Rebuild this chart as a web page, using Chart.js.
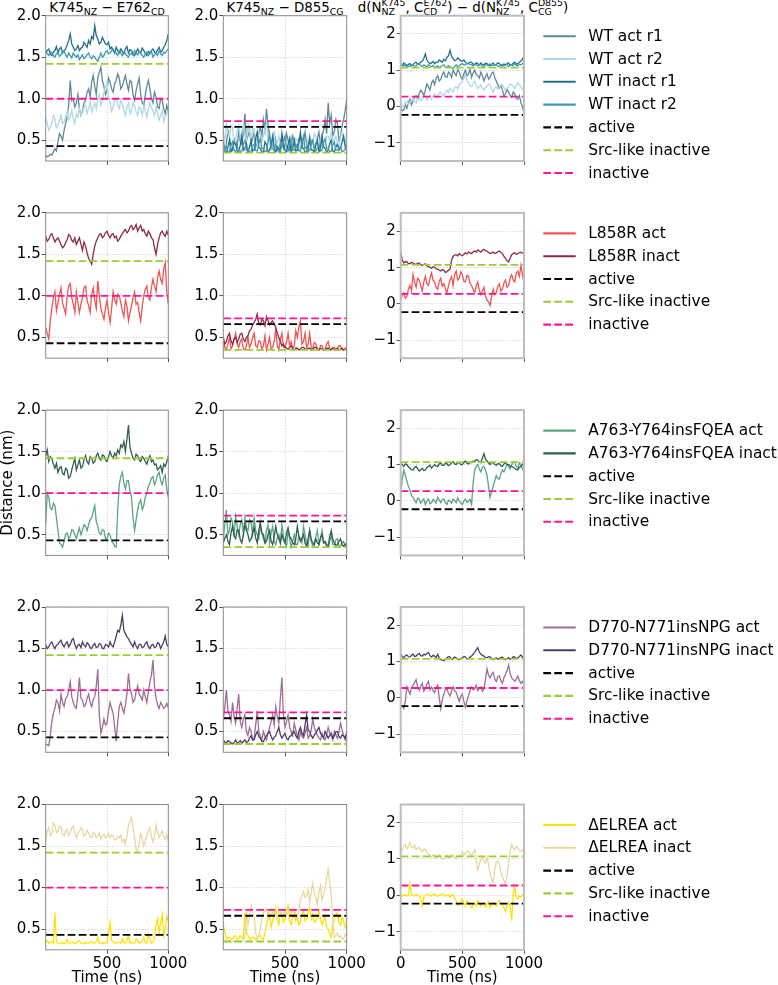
<!DOCTYPE html>
<html><head><meta charset="utf-8">
<script src="https://cdn.jsdelivr.net/npm/chart.js@4.4.1/dist/chart.umd.min.js"></script>
<style>
html,body{margin:0;padding:0;background:#fff;width:778px;height:985px;overflow:hidden;position:relative;font-family:'DejaVu Sans',sans-serif;color:#000;}
canvas{position:absolute;}
.ttl{position:absolute;top:-7px;font-size:13.4px;line-height:30px;white-space:nowrap;transform:translateX(-50%);}
.sb{font-size:9.4px;position:relative;top:3px;}
.stk{display:inline-block;position:relative;font-size:9.4px;line-height:30px;}
.stk .sp{position:relative;top:-6px;}
.stk .dn{position:absolute;left:0;top:3px;}
</style></head><body>
<div class="ttl" style="left:107px">K745<span class="sb">NZ</span> − E762<span class="sb">CD</span></div>
<div class="ttl" style="left:285px">K745<span class="sb">NZ</span> − D855<span class="sb">CG</span></div>
<div class="ttl" style="left:463px">d(N<span class="stk"><span class="sp">K745</span><span class="dn">NZ</span></span>, C<span class="stk"><span class="sp">E762</span><span class="dn">CD</span></span>) − d(N<span class="stk"><span class="sp">K745</span><span class="dn">NZ</span></span>, C<span class="stk"><span class="sp">D855</span><span class="dn">CG</span></span>)</div>
<script>
// ---------------- DATA ----------------
const timeNs = [0,12.5,25,37.5,50,62.5,75,87.5,100,112.5,125,137.5,150,162.5,175,187.5,200,212.5,225,237.5,250,262.5,275,287.5,300,312.5,325,337.5,350,362.5,375,387.5,400,412.5,425,437.5,450,462.5,475,487.5,500,512.5,525,537.5,550,562.5,575,587.5,600,612.5,625,637.5,650,662.5,675,687.5,700,712.5,725,737.5,750,762.5,775,787.5,800,812.5,825,837.5,850,862.5,875,887.5,900,912.5,925,937.5,950,962.5,975,987.5,1000];

const xTicksDist = [500,1000];
const xTicksDiff = [0,500,1000];
const yTicksDist = [0.5,1.0,1.5,2.0];
const yTickLabelsDist = ['0.5','1.0','1.5','2.0'];
const yTicksDiff = [-1,0,1,2];
const yTickLabelsDiff = ['−1','0','1','2'];

// reference states per column: [K745-E762, K745-D855, difference]
const refActive   = [0.43, 0.66, -0.23];
const refSrcLike  = [1.42, 0.35, 1.07];
const refInactive = [1.00, 0.73, 0.27];
const refLabels = ['active','Src-like inactive','inactive'];

// WT
const wtActR1_E762 = [.32,.30,.31,.33,.32,.36,.40,.37,.48,.58,.55,.50,.62,.70,.78,.92,1.22,.98,1.00,.90,.95,1.05,.88,.80,.85,.95,.98,1.08,1.12,1.02,1.20,1.28,1.15,1.05,1.25,1.32,1.38,1.22,1.15,1.05,1.10,1.25,1.20,1.12,1.08,1.18,1.22,1.30,1.25,1.12,1.15,1.22,1.28,1.18,1.10,1.22,1.20,1.05,.98,1.10,1.18,1.25,1.05,.95,.92,1.05,1.15,1.22,1.12,1.00,.95,1.08,1.02,.90,.88,1.00,.98,.88,.82,.92,.85];
const wtActR2_E762 = [.78,.70,.62,.66,.70,.80,.76,.65,.68,.74,.80,.70,.72,.78,.84,.74,.78,.86,.76,.70,.82,.78,.88,.80,.84,.90,.92,.82,.88,.96,.84,.90,.95,.88,1.00,1.05,.92,.98,1.08,1.15,1.20,1.02,.95,.85,.90,.98,1.00,.92,.88,.98,.94,.86,.80,.90,.95,.82,.86,.95,.92,.84,.80,.90,.88,.80,.92,.85,.78,.88,.95,.90,.85,.80,.90,.82,.74,.80,.86,.72,.78,.82,.85];
const wtInactR1_E762 = [1.55,1.58,1.60,1.54,1.52,1.56,1.58,1.63,1.55,1.60,1.62,1.55,1.58,1.60,1.65,1.70,1.78,1.66,1.62,1.58,1.60,1.64,1.58,1.61,1.62,1.68,1.65,1.62,1.70,1.66,1.75,1.72,1.88,1.76,1.72,1.66,1.68,1.74,1.70,1.66,1.65,1.68,1.60,1.62,1.58,1.55,1.62,1.58,1.55,1.60,1.57,1.54,1.60,1.63,1.55,1.59,1.58,1.54,1.52,1.56,1.60,1.57,1.55,1.61,1.58,1.55,1.52,1.57,1.55,1.58,1.60,1.56,1.55,1.59,1.62,1.56,1.58,1.62,1.65,1.70,1.78];
const wtInactR2_E762 = [1.58,1.54,1.52,1.57,1.55,1.52,1.50,1.54,1.56,1.51,1.53,1.56,1.58,1.53,1.50,1.55,1.52,1.49,1.55,1.52,1.50,1.53,1.47,1.50,1.53,1.48,1.50,1.53,1.55,1.50,1.48,1.52,1.50,1.47,1.45,1.50,1.55,1.50,1.52,1.56,1.58,1.54,1.55,1.58,1.60,1.56,1.55,1.52,1.58,1.55,1.52,1.56,1.55,1.52,1.50,1.54,1.55,1.52,1.58,1.55,1.53,1.57,1.55,1.52,1.50,1.54,1.56,1.52,1.54,1.57,1.50,1.53,1.55,1.52,1.58,1.54,1.52,1.56,1.55,1.58,1.60];
const wtActR1_D855 = [.50,.40,.45,.62,.55,.38,.40,.52,.50,.42,.60,.48,.45,.60,.82,.50,.55,.62,.45,.52,.60,.42,.50,.58,.65,.55,.75,.62,.88,.68,.55,.40,.45,.58,.50,.38,.40,.48,.55,.40,.45,.58,.50,.38,.40,.55,.50,.40,.45,.52,.55,.42,.50,.60,.45,.38,.55,.48,.50,.40,.45,.52,.60,.45,.55,.62,.75,.58,.95,.70,.80,.55,.60,.75,.70,.50,.55,.68,.75,.85,1.00];
const wtActR2_D855 = [.60,.48,.70,.58,.55,.68,.65,.45,.50,.62,.68,.52,.60,.70,.55,.48,.70,.60,.50,.65,.62,.50,.45,.58,.60,.48,.55,.65,.70,.52,.45,.40,.50,.58,.40,.48,.55,.45,.42,.52,.50,.42,.40,.50,.55,.40,.45,.52,.50,.42,.40,.50,.48,.40,.42,.52,.50,.44,.45,.58,.55,.45,.42,.50,.50,.42,.45,.55,.55,.50,.60,.48,.50,.55,.45,.42,.55,.60,.50,.45,.60];
const wtInactR1_D855 = [.40,.37,.35,.42,.50,.36,.38,.48,.45,.37,.36,.44,.55,.38,.40,.46,.36,.42,.50,.37,.38,.52,.60,.42,.40,.36,.36,.48,.45,.36,.38,.44,.55,.40,.36,.42,.40,.36,.58,.44,.38,.36,.45,.52,.36,.40,.50,.37,.38,.46,.60,.42,.40,.36,.36,.44,.50,.38,.38,.36,.45,.50,.36,.40,.55,.42,.40,.36,.38,.46,.50,.37,.36,.42,.45,.38,.40,.48,.55,.42,.38];
const wtInactR2_D855 = [.36,.38,.42,.36,.37,.44,.48,.38,.36,.41,.40,.37,.37,.45,.50,.38,.40,.36,.36,.43,.45,.38,.37,.46,.52,.40,.40,.36,.37,.48,.58,.42,.40,.37,.45,.39,.36,.38,.42,.48,.55,.40,.37,.44,.50,.38,.38,.42,.45,.37,.37,.48,.55,.40,.42,.36,.38,.45,.50,.39,.37,.41,.45,.37,.38,.48,.52,.40,.40,.36,.37,.44,.48,.38,.38,.41,.42,.36,.37,.40,.45];
const wtActR1_Diff = [.00,-.12,-.10,.05,-.05,.10,.20,.05,.15,.25,.30,.20,.35,.45,.40,.30,.45,.62,.55,.45,.65,.72,.60,.78,.85,.70,.75,.88,.95,.82,.80,.95,.90,.80,1.00,.92,.85,1.02,.95,.82,.75,.90,1.00,.85,.90,1.02,.80,.92,1.00,.88,.85,.78,.95,.85,.70,.82,.90,.75,.80,.92,.95,.80,.70,.60,.50,.58,.45,.30,.35,.48,.40,.30,.25,.40,.35,.22,.20,.30,.10,.00,-.20];
const wtActR2_Diff = [.10,.02,.00,.12,.15,.05,.10,.18,.20,.12,.10,.22,.25,.15,.20,.28,.30,.18,.25,.32,.20,.28,.35,.25,.30,.38,.40,.32,.30,.40,.45,.38,.50,.45,.40,.52,.55,.48,.60,.65,.70,.78,.90,.72,.65,.58,.55,.62,.70,.58,.50,.55,.60,.50,.45,.52,.55,.62,.60,.48,.40,.50,.55,.48,.50,.58,.60,.52,.45,.50,.55,.62,.60,.55,.50,.58,.65,.60,.55,.48,.40];
const wtInactR1_Diff = [1.15,1.12,1.20,1.14,1.10,1.16,1.18,1.12,1.15,1.20,1.22,1.16,1.18,1.22,1.25,1.32,1.45,1.28,1.22,1.18,1.20,1.24,1.18,1.22,1.22,1.28,1.25,1.22,1.30,1.26,1.35,1.40,1.55,1.38,1.32,1.26,1.28,1.34,1.30,1.25,1.25,1.28,1.22,1.18,1.18,1.22,1.22,1.16,1.15,1.20,1.18,1.14,1.20,1.16,1.15,1.19,1.18,1.14,1.12,1.16,1.20,1.14,1.15,1.20,1.18,1.13,1.12,1.17,1.15,1.18,1.20,1.14,1.15,1.19,1.22,1.16,1.18,1.22,1.25,1.30,1.40];
const wtInactR2_Diff = [1.20,1.14,1.12,1.17,1.15,1.11,1.10,1.14,1.16,1.11,1.12,1.16,1.18,1.12,1.10,1.14,1.12,1.09,1.15,1.11,1.10,1.13,1.06,1.10,1.12,1.07,1.10,1.13,1.15,1.10,1.08,1.12,1.10,1.06,1.05,1.10,1.15,1.10,1.12,1.16,1.18,1.14,1.15,1.18,1.20,1.16,1.15,1.12,1.18,1.15,1.12,1.16,1.15,1.11,1.10,1.14,1.15,1.12,1.18,1.14,1.12,1.16,1.15,1.11,1.10,1.14,1.16,1.12,1.14,1.17,1.10,1.13,1.15,1.12,1.18,1.14,1.12,1.16,1.15,1.18,1.20];

// L858R
const l858rAct_E762 = [.62,.55,.48,.70,.85,.98,1.05,.82,.92,1.02,1.10,.92,.85,.78,1.00,1.12,1.15,.98,.90,.80,1.05,.92,.80,.90,.98,1.10,1.12,.95,.88,.80,1.02,1.10,.95,.85,1.18,1.00,.85,.78,.72,.85,.95,.80,.68,.85,1.05,.95,.90,1.02,1.00,.92,.82,.75,.95,.88,.70,.80,.88,.98,1.05,.90,.92,.80,.70,.88,1.00,1.08,1.12,.98,.95,1.10,1.20,1.12,1.05,1.22,1.30,1.20,1.15,1.32,1.40,1.05,.90];
const l858rInact_E762 = [1.72,1.66,1.68,1.73,1.75,1.70,1.65,1.68,1.70,1.66,1.62,1.58,1.60,1.64,1.68,1.74,1.72,1.67,1.65,1.70,1.62,1.66,1.70,1.62,1.55,1.65,1.60,1.52,1.45,1.42,1.38,1.50,1.60,1.66,1.70,1.74,1.75,1.70,1.72,1.76,1.78,1.73,1.70,1.74,1.75,1.70,1.72,1.66,1.68,1.72,1.75,1.78,1.80,1.76,1.78,1.83,1.85,1.80,1.82,1.86,1.78,1.82,1.85,1.78,1.80,1.75,1.72,1.78,1.75,1.70,1.68,1.58,1.50,1.62,1.70,1.76,1.78,1.74,1.72,1.78,1.73];
const l858rAct_D855 = [.45,.38,.35,.42,.50,.36,.40,.48,.55,.42,.38,.45,.48,.36,.35,.40,.50,.38,.42,.50,.55,.40,.38,.46,.45,.36,.40,.52,.35,.42,.50,.36,.38,.45,.60,.40,.35,.48,.55,.38,.38,.44,.55,.40,.45,.36,.40,.58,.50,.62,.70,.42,.45,.55,.38,.42,.55,.38,.36,.44,.42,.35,.35,.40,.40,.35,.36,.42,.45,.36,.35,.38,.38,.35,.36,.40,.40,.35,.35,.37,.38];
const l858rInact_D855 = [.50,.42,.45,.52,.55,.46,.42,.48,.50,.44,.48,.54,.55,.48,.45,.50,.52,.58,.60,.65,.68,.72,.78,.66,.65,.72,.70,.64,.75,.70,.65,.68,.70,.66,.62,.55,.50,.45,.40,.42,.38,.37,.36,.38,.40,.36,.35,.37,.37,.35,.36,.38,.38,.36,.35,.37,.37,.35,.36,.38,.38,.36,.35,.37,.36,.35,.35,.37,.37,.35,.36,.37,.35,.36,.37,.35,.36,.37,.35,.36,.36];
const l858rAct_Diff = [.10,.25,.30,.15,.20,.40,.50,.35,.80,.60,.45,.70,.65,.50,.35,.60,.75,.55,.50,.70,.85,.65,.60,.45,.40,.62,.70,.48,.55,.40,.30,.50,.65,.75,.50,.80,.90,.65,.70,.88,.80,.62,.60,.78,.75,.55,.50,.40,.30,.48,.60,.38,.25,.35,.45,.22,.10,.05,-.05,.20,.40,.25,.30,.48,.55,.35,.40,.58,.65,.45,.50,.70,.80,.65,.60,.85,.90,.75,1.05,.80,.55];
const l858rInact_Diff = [1.42,1.20,1.12,1.16,1.15,1.11,1.10,1.14,1.12,1.09,1.08,1.12,1.12,1.07,1.05,1.08,1.10,1.04,1.02,1.00,.98,1.02,1.00,.96,.95,.92,.90,.94,.92,.86,.88,.92,.95,1.20,1.30,1.34,1.35,1.32,1.38,1.34,1.32,1.36,1.40,1.37,1.42,1.40,1.38,1.43,1.45,1.42,1.48,1.45,1.42,1.47,1.50,1.46,1.45,1.41,1.38,1.40,1.42,1.38,1.40,1.43,1.45,1.41,1.38,1.30,1.25,1.18,1.15,1.25,1.35,1.38,1.40,1.36,1.38,1.41,1.42,1.39,1.38];

// A763-Y764insFQEA
const fqeaAct_E762 = [.63,1.00,.95,.82,.80,.88,.85,.70,.55,.40,.38,.35,.42,.50,.52,.45,.48,.56,.55,.50,.45,.52,.58,.50,.55,.62,.60,.55,.62,.68,.70,.78,.85,.66,.60,.52,.50,.56,.55,.45,.45,.52,.50,.42,.40,.36,.35,.80,1.10,1.20,1.25,1.12,1.05,1.15,1.15,1.02,.95,.70,.55,.68,.80,.88,.92,.80,.85,.95,1.00,1.08,1.12,1.18,1.20,1.10,1.15,1.22,1.25,1.15,1.10,1.18,1.22,1.05,.95];
const fqeaInact_E762 = [1.45,1.52,1.38,1.44,1.42,1.35,1.30,1.36,1.25,1.30,1.32,1.24,1.22,1.30,1.28,1.18,1.20,1.28,1.35,1.42,1.28,1.34,1.40,1.30,1.32,1.40,1.45,1.38,1.35,1.44,1.42,1.36,1.38,1.45,1.48,1.42,1.40,1.46,1.45,1.40,1.38,1.44,1.50,1.45,1.42,1.48,1.45,1.52,1.48,1.58,1.55,1.62,1.50,1.65,1.82,1.55,1.48,1.42,1.40,1.47,1.45,1.40,1.38,1.44,1.42,1.38,1.35,1.41,1.45,1.38,1.40,1.34,1.35,1.28,1.30,1.33,1.25,1.35,1.32,1.38,1.45];
const fqeaAct_D855 = [.45,.62,.80,.50,.55,.70,.65,.48,.72,.60,.50,.62,.68,.52,.70,.58,.55,.68,.65,.50,.70,.55,.50,.45,.60,.52,.45,.40,.55,.62,.40,.52,.60,.42,.38,.46,.50,.40,.62,.48,.40,.36,.55,.45,.35,.42,.50,.38,.38,.48,.45,.40,.60,.50,.40,.36,.55,.42,.36,.40,.48,.55,.38,.45,.55,.40,.40,.36,.35,.42,.50,.38,.38,.44,.45,.36,.36,.40,.42,.36,.38];
const fqeaInact_D855 = [.40,.46,.50,.42,.38,.52,.60,.48,.45,.56,.55,.44,.40,.50,.62,.55,.50,.42,.45,.52,.58,.46,.40,.55,.65,.52,.50,.40,.42,.50,.55,.42,.38,.48,.60,.50,.45,.40,.50,.44,.40,.52,.58,.48,.45,.40,.38,.45,.60,.48,.42,.46,.50,.40,.36,.45,.55,.44,.40,.38,.45,.40,.38,.46,.50,.40,.42,.38,.36,.48,.55,.44,.40,.37,.38,.42,.45,.38,.36,.38,.40];
const fqeaAct_Diff = [.20,.60,.85,.70,.55,.40,.30,.15,.10,.02,-.05,.08,.05,-.06,.00,.06,-.10,.00,.05,-.08,-.05,.04,.00,-.06,.10,.02,-.05,.04,.05,-.05,-.10,.02,.00,-.06,.05,.00,-.05,.08,.00,-.06,-.10,.00,.05,-.04,.00,.04,-.10,.50,.85,.95,1.00,.88,.80,.92,.95,.85,.70,.40,.10,.25,.40,.55,.70,.62,.60,.75,.85,.80,.90,1.00,.95,.88,1.00,1.08,1.05,.95,.90,1.05,1.00,.88,.80];
const fqeaInact_Diff = [1.05,1.00,.95,1.02,1.00,.94,.90,.86,.85,.92,.95,.88,.82,.86,.90,.84,.85,.92,.95,.98,.90,.95,1.00,.96,.95,1.02,1.05,.98,.98,1.04,1.02,.97,1.00,1.05,1.08,1.02,1.00,1.06,1.05,1.00,1.00,1.06,1.10,1.04,1.02,1.07,1.05,1.10,1.08,1.14,1.12,1.08,1.05,1.18,1.30,1.15,1.10,1.04,1.00,1.06,1.05,1.00,.98,1.03,1.02,.97,.95,1.02,1.05,1.00,1.00,.96,.95,.92,.90,.86,.85,.92,.95,1.00,1.05];

// D770-N771insNPG
const npgAct_E762 = [.35,.34,.33,.45,.62,.72,.78,.88,.85,.75,.95,.85,.80,.90,.92,1.00,1.10,.92,.85,.80,.78,.95,1.15,.90,.88,.80,.82,.90,.95,.85,.80,.88,.92,1.05,1.25,.70,.48,.55,.65,.58,.60,.75,.85,.78,.72,.55,.38,.62,.80,.85,.78,.72,.82,.95,1.20,1.02,.95,.85,.88,.98,1.05,.95,.92,.88,1.00,.92,.85,.98,1.10,1.18,1.36,1.05,.90,.82,.78,.85,.82,.78,.80,.84,.78];
const npgInact_E762 = [1.55,1.50,1.52,1.56,1.58,1.53,1.50,1.54,1.55,1.58,1.60,1.55,1.52,1.56,1.58,1.52,1.55,1.60,1.62,1.55,1.50,1.54,1.55,1.51,1.58,1.54,1.52,1.57,1.55,1.51,1.50,1.54,1.56,1.51,1.52,1.56,1.55,1.50,1.50,1.55,1.54,1.52,1.58,1.54,1.52,1.58,1.65,1.72,1.70,1.78,1.90,1.72,1.68,1.64,1.62,1.58,1.55,1.52,1.58,1.53,1.50,1.55,1.55,1.51,1.52,1.56,1.58,1.52,1.50,1.54,1.55,1.51,1.52,1.57,1.56,1.50,1.54,1.58,1.65,1.55,1.52];
const npgAct_D855 = [.65,.80,1.00,.75,.70,.62,.85,.68,.60,.78,.95,.62,.55,.65,.70,.50,.45,.55,.50,.40,.42,.58,.75,.50,.45,.40,.50,.44,.40,.48,.55,.62,.70,.58,.80,.68,.60,.90,1.15,.70,.55,.62,.70,.55,.50,.45,.60,.52,.45,.40,.50,.44,.42,.48,.55,.42,.45,.52,.65,.55,.50,.45,.42,.40,.48,.42,.40,.46,.55,.48,.45,.40,.50,.46,.42,.50,.60,.52,.45,.40,.50];
const npgInact_D855 = [.40,.37,.36,.39,.38,.36,.35,.37,.40,.36,.37,.39,.36,.38,.40,.37,.38,.42,.45,.40,.40,.46,.50,.44,.42,.38,.38,.42,.45,.48,.50,.44,.40,.43,.45,.50,.55,.46,.42,.45,.48,.42,.40,.44,.45,.48,.50,.45,.42,.50,.55,.48,.45,.58,.70,.52,.50,.45,.42,.46,.48,.52,.55,.48,.45,.42,.50,.46,.42,.45,.48,.42,.45,.50,.50,.44,.42,.46,.45,.42,.48];
const npgAct_Diff = [-.25,-.22,-.30,-.10,.30,.20,.10,.28,.35,.42,.50,.30,.20,.32,.40,.18,.25,.38,.45,.22,.30,.20,.15,.28,.35,.00,-.30,-.05,.10,.22,.25,.12,.05,.18,.30,.20,.15,.02,-.10,.05,.10,-.10,-.25,-.08,.05,.20,.30,.22,.25,.35,.20,.28,.30,.18,.25,.50,.80,.62,.55,.65,.70,.52,.45,.58,.60,.48,.40,.55,.65,.75,.90,.68,.55,.50,.45,.52,.60,.48,.40,.45,.35];
const npgInact_Diff = [1.20,1.14,1.10,1.16,1.18,1.13,1.12,1.17,1.20,1.14,1.15,1.19,1.22,1.16,1.15,1.20,1.18,1.22,1.25,1.16,1.12,1.17,1.15,1.11,1.20,1.10,1.05,1.04,1.02,1.07,1.10,1.14,1.12,1.06,1.08,1.12,1.10,1.06,1.05,1.09,1.10,1.14,1.12,1.07,1.08,1.12,1.15,1.20,1.25,1.32,1.38,1.26,1.20,1.17,1.15,1.11,1.10,1.14,1.12,1.08,1.05,1.09,1.10,1.06,1.08,1.11,1.12,1.07,1.05,1.08,1.10,1.06,1.08,1.13,1.12,1.08,1.10,1.14,1.18,1.12,1.10];

// ΔELREA
const elreaAct_E762 = [.34,.36,.33,.34,.35,.33,.70,.34,.33,.32,.34,.33,.32,.33,.38,.33,.33,.34,.34,.32,.33,.35,.36,.33,.33,.32,.34,.33,.33,.34,.35,.33,.33,.35,.40,.33,.33,.32,.34,.33,.33,.45,.58,.36,.35,.33,.33,.34,.34,.33,.38,.34,.33,.36,.42,.33,.34,.33,.33,.38,.36,.33,.34,.35,.40,.34,.33,.44,.38,.33,.34,.40,.55,.62,.45,.58,.68,.42,.50,.65,.60];
const elreaInact_E762 = [1.55,1.68,1.72,1.62,1.65,1.78,1.75,1.66,1.68,1.74,1.72,1.64,1.62,1.68,1.70,1.63,1.66,1.72,1.74,1.66,1.60,1.65,1.68,1.72,1.70,1.62,1.64,1.69,1.66,1.61,1.60,1.66,1.65,1.60,1.62,1.66,1.58,1.62,1.64,1.60,1.62,1.65,1.60,1.63,1.62,1.57,1.58,1.62,1.60,1.63,1.55,1.58,1.52,1.62,1.75,1.80,1.85,1.72,1.60,1.45,1.42,1.55,1.65,1.58,1.50,1.56,1.62,1.68,1.72,1.62,1.55,1.62,1.75,1.66,1.60,1.65,1.68,1.62,1.58,1.64,1.55];
const elreaAct_D855 = [.56,.45,.38,.40,.40,.37,.38,.41,.42,.38,.39,.42,.40,.38,.70,.45,.42,.38,.38,.40,.40,.37,.39,.41,.42,.38,.38,.45,.55,.62,.70,.52,.60,.68,.75,.62,.55,.70,.68,.58,.62,.72,.78,.60,.55,.65,.70,.60,.65,.55,.58,.68,.72,.60,.62,.70,.75,.62,.68,.58,.60,.66,.72,.62,.55,.60,.65,.52,.50,.45,.40,.55,.62,.68,.70,.58,.55,.65,.60,.52,.55];
const elreaInact_D855 = [.35,.36,.34,.35,.36,.34,.35,.36,.34,.35,.36,.35,.35,.37,.40,.72,.55,.65,.78,.70,.65,.45,.38,.42,.50,.62,.70,.72,.75,.68,.62,.66,.70,.72,.68,.62,.75,.70,.65,.68,.72,.66,.70,.74,.68,.72,.75,.70,.62,.72,.85,.90,.95,.88,.90,.98,.82,.95,1.05,.92,.88,.80,.95,1.02,.85,.92,.98,1.12,1.22,1.05,.90,.60,.40,.42,.45,.40,.42,.38,.38,.44,.42];
const elreaAct_Diff = [.00,-.03,.02,.01,-.02,.00,.30,.02,.00,-.02,.03,.00,-.02,-.08,-.30,-.05,.00,.03,.02,-.02,-.01,.02,.03,-.01,-.02,.01,.00,.03,.02,-.02,.00,.01,-.05,.00,.02,-.08,-.15,-.28,-.25,-.18,-.10,-.22,-.30,-.15,-.20,-.28,-.35,-.25,-.22,-.30,-.15,-.20,-.30,-.22,-.20,-.32,-.25,-.18,-.35,-.28,-.20,-.25,-.30,-.18,-.15,-.22,-.25,-.35,-.45,-.28,-.20,-.30,-.70,.00,.25,-.05,-.10,-.02,-.05,.02,.00];
const elreaInact_Diff = [1.30,1.22,1.35,1.40,1.28,1.35,1.45,1.32,1.30,1.38,1.25,1.30,1.32,1.24,1.20,1.26,1.28,1.18,1.15,1.10,1.05,1.12,1.10,1.02,1.08,1.12,1.05,1.00,1.00,1.06,1.10,1.02,1.05,1.12,1.10,1.04,1.00,1.08,1.05,1.12,1.20,1.10,1.15,1.22,1.20,1.12,1.10,1.18,1.25,1.00,.70,.85,1.00,1.05,.95,.88,1.05,.85,.60,.45,.35,.70,.90,.95,.85,.65,.50,.40,.30,.55,.90,1.20,1.40,1.30,1.25,1.35,1.30,1.22,1.20,1.26,1.20];

// ---------------- PANEL DEFINITIONS ----------------
const rowsDef = [
  {labels:['WT act r1','WT act r2','WT inact r1','WT inact r2'],
   cols:[[wtActR1_E762,wtActR2_E762,wtInactR1_E762,wtInactR2_E762],
         [wtActR1_D855,wtActR2_D855,wtInactR1_D855,wtInactR2_D855],
         [wtActR1_Diff,wtActR2_Diff,wtInactR1_Diff,wtInactR2_Diff]]},
  {labels:['L858R act','L858R inact'],
   cols:[[l858rAct_E762,l858rInact_E762],[l858rAct_D855,l858rInact_D855],[l858rAct_Diff,l858rInact_Diff]]},
  {labels:['A763-Y764insFQEA act','A763-Y764insFQEA inact'],
   cols:[[fqeaAct_E762,fqeaInact_E762],[fqeaAct_D855,fqeaInact_D855],[fqeaAct_Diff,fqeaInact_Diff]]},
  {labels:['D770-N771insNPG act','D770-N771insNPG inact'],
   cols:[[npgAct_E762,npgInact_E762],[npgAct_D855,npgInact_D855],[npgAct_Diff,npgInact_Diff]]},
  {labels:['ΔELREA act','ΔELREA inact'],
   cols:[[elreaAct_E762,elreaInact_E762],[elreaAct_D855,elreaInact_D855],[elreaAct_Diff,elreaInact_Diff]]}
];

// ---------------- STYLES / LAYOUT ----------------
const seriesColors = [
  ['#5e8a97','#add8e6','#256e8c','#3d9bb3'],
  ['#f05454','#8b2c43'],
  ['#5aa47f','#2f5d51'],
  ['#9d6e95','#4e3c6c'],
  ['#ffe205','#ead79f']
];
const refColors = ['#000000','#9acd32','#ff1493'];
const colLeft = [45.7, 223.3, 400.7];
const colRight = [168.3, 346.7, 524.0];
const rowTop = [15.7, 212.9, 410.1, 607.0, 804.5];
const plotH = 145.3;
const FONT = "'DejaVu Sans', sans-serif";

Chart.defaults.font.family = FONT;
Chart.defaults.font.size = 15;
Chart.defaults.color = '#000';

const framePlugin = {
  id: 'frame',
  afterDatasetsDraw(chart, args, opts) {
    const {ctx, chartArea: a} = chart;
    ctx.save();
    ctx.strokeStyle = opts.color;
    ctx.lineWidth = opts.width;
    ctx.strokeRect(a.left, a.top, a.right - a.left, a.bottom - a.top);
    ctx.restore();
  }
};

const sideLegend = {
  id: 'sideLegend',
  afterDraw(chart, args, opts) {
    if (!opts.enabled) return;
    const ctx = chart.ctx;
    chart.data.datasets.forEach((ds, i) => {
      const y = opts.y0 + i * opts.dy;
      ctx.save();
      ctx.strokeStyle = ds.borderColor;
      ctx.lineWidth = 2.1;
      ctx.setLineDash(ds.borderDash || []);
      ctx.beginPath();
      ctx.moveTo(opts.x1, y);
      ctx.lineTo(opts.x2, y);
      ctx.stroke();
      ctx.setLineDash([]);
      ctx.fillStyle = '#000';
      ctx.font = '15.4px ' + FONT;
      ctx.textBaseline = 'middle';
      ctx.textAlign = 'left';
      ctx.fillText(ds.label, opts.xt, y + 0.5);
      ctx.restore();
    });
  }
};

function makePanel(r, c) {
  const row = rowsDef[r];
  const isLast = r === rowsDef.length - 1;
  const isDiff = c === 2;
  const plotLeft = colLeft[c], plotRight = colRight[c];
  const plotTop = rowTop[r], plotBottom = rowTop[r] + plotH;
  const cl = Math.floor(plotLeft - 46);
  const ct = Math.floor(plotTop - 12);
  const cr = isDiff ? 778 : Math.ceil(plotRight + 28);
  const cb = isLast ? 987 : Math.ceil(plotBottom + (isDiff ? 32 : 14));
  const cw = cr - cl, ch = cb - ct;
  const yw = plotLeft - cl, padTop = plotTop - ct, padRight = cr - plotRight, xh = cb - plotBottom;

  const cv = document.createElement('canvas');
  cv.width = cw; cv.height = ch;
  cv.style.left = cl + 'px'; cv.style.top = ct + 'px';
  cv.style.width = cw + 'px'; cv.style.height = ch + 'px';
  document.body.appendChild(cv);

  const datasets = [];
  row.cols[c].forEach((vals, i) => {
    datasets.push({
      label: row.labels[i],
      data: vals.map((v, k) => ({x: timeNs[k], y: v})),
      borderColor: seriesColors[r][i],
      borderWidth: 1.3,
      pointRadius: 0,
      tension: 0,
      fill: false,
      order: 10 - i
    });
  });
  const refVals = [refActive[c], refSrcLike[c], refInactive[c]];
  refVals.forEach((v, i) => {
    datasets.push({
      label: refLabels[i],
      data: [{x: 0, y: v}, {x: 1000, y: v}],
      borderColor: refColors[i],
      borderWidth: 1.8,
      borderDash: [7.7, 3.3],
      pointRadius: 0,
      fill: false,
      order: -1 - i
    });
  });

  const yTicks = isDiff ? yTicksDiff : yTicksDist;
  const yLabels = isDiff ? yTickLabelsDiff : yTickLabelsDist;
  const xTicks = isDiff ? xTicksDiff : xTicksDist;
  const gridOpts = {color: '#d0d0d0', lineWidth: 0.8, tickColor: '#555', tickLength: 4, tickWidth: 1};

  new Chart(cv, {
    type: 'line',
    data: {datasets},
    plugins: [framePlugin, sideLegend],
    options: {
      responsive: false, animation: false, devicePixelRatio: 1,
      layout: {padding: {top: padTop, right: padRight, bottom: 0, left: 0}},
      plugins: {
        legend: {display: false}, tooltip: {enabled: false},
        frame: {color: isDiff ? '#bdbdbd' : '#8a8a8a', width: isDiff ? 2 : 1},
        sideLegend: {enabled: isDiff, x1: 543.3 - cl, x2: 575.7 - cl, xt: 588.3 - cl,
                     y0: plotTop + 20.5 - ct, dy: 22.8}
      },
      scales: {
        x: {
          type: 'linear', min: 0, max: 1000,
          afterBuildTicks: s => { s.ticks = xTicks.map(v => ({value: v})); },
          afterFit: s => { s.height = xh; },
          ticks: {display: isLast, padding: 1, autoSkip: false, maxRotation: 0, callback: v => String(v)},
          grid: gridOpts,
          border: {display: false, dash: [1.5, 1.5]},
          title: {display: isLast, text: 'Time (ns)', padding: 0}
        },
        y: {
          type: 'linear', min: isDiff ? -1.5 : 0.25, max: isDiff ? 2.5 : 2.0,
          afterBuildTicks: s => { s.ticks = yTicks.map(v => ({value: v})); },
          afterFit: s => { s.width = yw; },
          ticks: {padding: 1, autoSkip: false, callback: (v, i) => yLabels[i]},
          grid: gridOpts,
          border: {display: false, dash: [1.5, 1.5]},
          title: {display: r === 2 && c === 0, text: 'Distance (nm)', padding: 0}
        }
      }
    }
  });
}

for (let r = 0; r < rowsDef.length; r++) {
  for (let c = 0; c < 3; c++) makePanel(r, c);
}
</script>
</body></html>
